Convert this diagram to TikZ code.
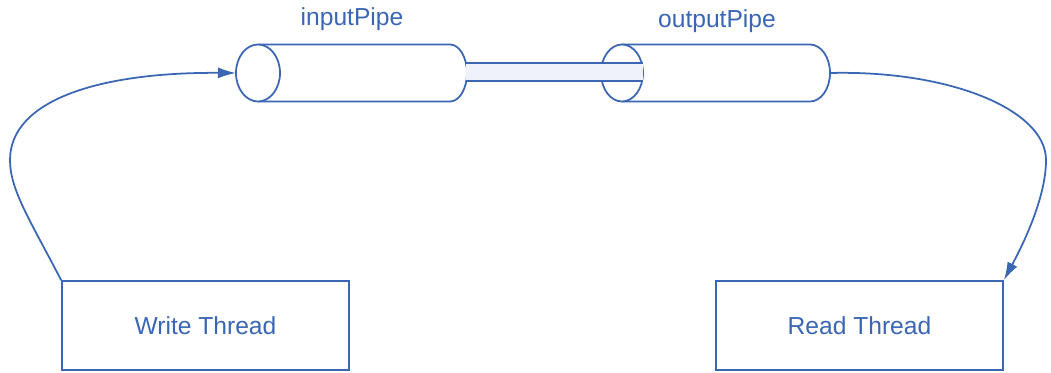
\documentclass[tikz,border=0pt]{standalone}
\usepackage{fontspec}
\setmainfont{Liberation Sans}
\usetikzlibrary{arrows.meta,positioning}
\definecolor{pipeblue}{HTML}{3A66B4}

\tikzset{
  threadbox/.style={draw=pipeblue, minimum width=57.4mm, minimum height=17.8mm, inner sep=0pt,
    text=pipeblue, font=\fontsize{14}{16}\selectfont},
  pipelabel/.style={text=pipeblue, font=\fontsize{14}{16}\selectfont},
  pipeline/.style={draw=pipeblue, fill=white},
  flow/.style={draw=pipeblue, -{Latex[length=3.6mm,width=2.2mm]}}
}

\begin{document}
\begin{tikzpicture}[x=0.2mm, y=0.2mm, line width=1pt]
  \useasboundingbox (0,0) rectangle (1051,373);
  % input pipe
  \draw[pipeline] (258,328.5) -- (450,328.5)
    arc[start angle=90, end angle=-90, x radius=17, y radius=28.5] -- (258,271.5);
  \draw[pipeline] (258,300) ellipse [x radius=22, y radius=28.5];
  % output pipe
  \draw[pipeline] (622,328.5) -- (810,328.5)
    arc[start angle=90, end angle=-90, x radius=20, y radius=28.5] -- (622,271.5);
  \draw[pipeline] (622,300) ellipse [x radius=21, y radius=28.5];
  % tube between them
  \fill[pipeblue!8] (466,292) rectangle (643,310);
  \draw[pipeblue] (466,310) -- (643,310) (466,292) -- (643,292);
  \node[pipelabel] (inlabel) at (352,354) {inputPipe};
  \node[pipelabel] (outlabel) at (717,352) {outputPipe};
  \coordinate (inmouth) at (236,300);
  \coordinate (outmouth) at (830,300);
  % threads
  \node[threadbox] (writer) at (205.5,47.5) {Write Thread};
  \node[threadbox] (reader) at (859.5,47.5) {Read Thread};
  \draw[flow] (writer.north west) .. controls (30,153) and (10,183) .. (10,213)
    .. controls (10,273) and (100,301) .. (inmouth);
  \draw[flow] (outmouth) .. controls (950,303) and (1046,263) .. (1046,213)
    .. controls (1046,173) and (1020,123) .. (reader.north east);
\end{tikzpicture}
\end{document}
